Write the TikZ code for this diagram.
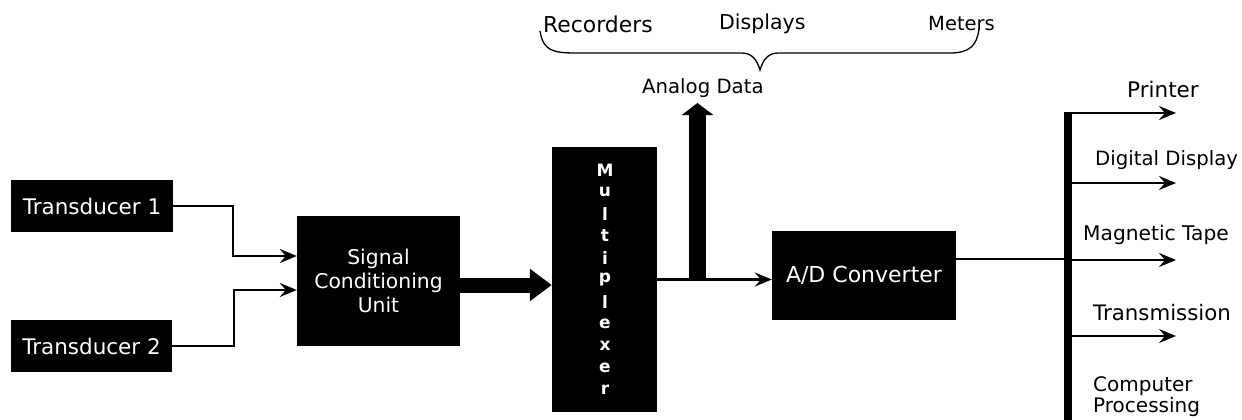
\documentclass[tikz,border=0pt]{standalone}
\usepackage{fontspec}
\setmainfont{DejaVu Sans}
\usetikzlibrary{arrows.meta,calc}
\begin{document}
\begin{tikzpicture}[x=1pt,y=-1pt,
  blk/.style={fill=black,text=white,inner sep=0pt,align=center,font=\fontsize{20.3}{24}\selectfont},
  lbl/.style={inner sep=0pt,anchor=west,font=\fontsize{20}{21}\selectfont},
  mux/.style={inner sep=0pt,text=white,font=\bfseries\fontsize{17}{17}\selectfont},
  conn/.style={line width=2.2pt,-{Stealth[length=17pt,width=14pt,inset=6pt]}},
  wire/.style={line width=2.2pt}]
\useasboundingbox (0,0) rectangle (1242,420);
% blocks
\node[blk,minimum width=162pt,minimum height=52pt,font=\fontsize{21.5}{24}\selectfont] (t1) at (92,206) {Transducer 1};
\node[blk,minimum width=161pt,minimum height=52pt,font=\fontsize{21.5}{24}\selectfont] (t2) at (91.5,346) {Transducer 2};
\node[blk,minimum width=163pt,minimum height=130pt] (scu) at (378.5,281) {Signal\\Conditioning\\Unit};
\node[fill=black,inner sep=0pt,minimum width=105pt,minimum height=265pt] (mx) at (604.5,279.5) {};
\foreach \ch [count=\i from 0] in {M,u,l,t,i,p,l,e,x,e,r}
  \node[mux] (m\i) at (605,170+22*\i) {\ch};
\node[blk,minimum width=184pt,minimum height=89pt,font=\fontsize{22}{24}\selectfont] (ad) at (864,275.5) {A/D Converter};
% transducer connectors
\draw[conn] (t1.east) -- ++(60,0) |- ([yshift=25pt]scu.west);
\draw[conn] (t2.east) -- ++(61.5,0) |- ([yshift=-9pt]scu.west);
% thick arrow to multiplexer
\draw[line width=15pt,-{Triangle[length=22pt,width=31pt]}] ([yshift=-4pt]scu.east) -- ([yshift=-4pt]scu.east -| mx.west);
% multiplexer to A/D
\draw[conn] (mx.east) -- (mx.east -| ad.west);
\coordinate (tap) at (697.5,279.5);
\coordinate (up) at (697.5,103);
\draw[line width=17pt,-{Triangle[length=12pt,width=31pt]}] (tap) -- (up);
% labels top
\node[lbl,font=\fontsize{19.7}{22}\selectfont] (an) at (642,88) {Analog Data};
\node[lbl,font=\fontsize{21.9}{22}\selectfont] (rec) at (543,24) {Recorders};
\node[lbl,font=\fontsize{20.5}{22}\selectfont] (dis) at (719,24) {Displays};
\node[lbl,font=\fontsize{19.5}{22}\selectfont] (met) at (928,24) {Meters};
\draw[line width=1.3pt] (540,31) .. controls (543,50) and (552,53) .. (575,53)
  -- (742,53) .. controls (752,53) and (757,60) .. (760,70)
  .. controls (763,60) and (768,53) .. (778,53)
  -- (950,53) .. controls (970,53) and (977,45) .. (979,29);
% bus
\coordinate (btop) at (1068,112);
\coordinate (bbot) at (1068,420);
\draw[line width=8pt] (btop) -- (bbot);
\coordinate (bin) at (1064,259);
\draw[wire] (ad.east |- bin) -- (bin);
\foreach \n/\yy in {1/113,2/183,3/260,4/336}{
  \coordinate (o\n) at (1176,\yy);
  \draw[conn] (o\n -| btop) -- (o\n);
}
\node[lbl,font=\fontsize{21.5}{22}\selectfont] (pr) at (1127,89) {Printer};
\node[lbl,font=\fontsize{19.7}{22}\selectfont] (dd) at (1095,160) {Digital Display};
\node[lbl,font=\fontsize{20.2}{22}\selectfont] (mt) at (1083,235) {Magnetic Tape};
\node[lbl,font=\fontsize{21.3}{22}\selectfont] (tr) at (1093,313) {Transmission};
\node[lbl,font=\fontsize{20}{22}\selectfont] (cp1) at (1093,386) {Computer};
\node[lbl,font=\fontsize{20}{22}\selectfont] (cp2) at (1093,407) {Processing};
\end{tikzpicture}
\end{document}
